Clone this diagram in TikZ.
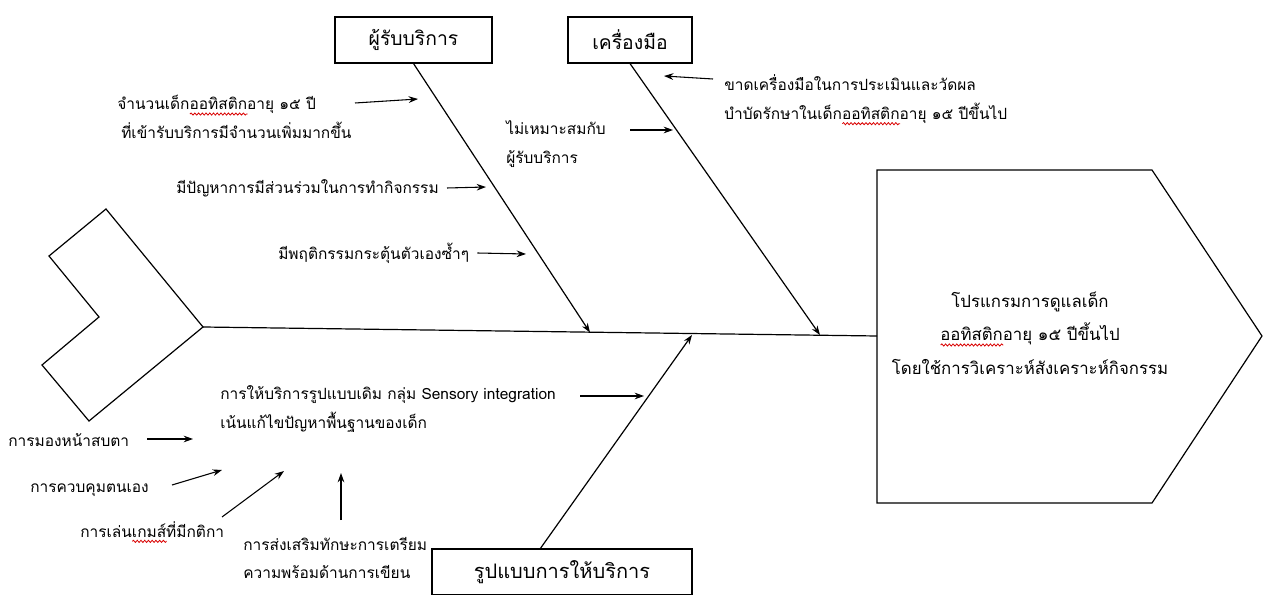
\documentclass[tikz,border=0pt]{standalone}
\usepackage{fontspec}
\setmainfont[Script=Thai]{Loma}
\usetikzlibrary{arrows.meta,decorations.pathmorphing}
\newlength\sqw
\newcommand\redsq[1]{\settowidth\sqw{#1}\leavevmode\rlap{\raisebox{-3.2pt}{\tikz[x=1pt,y=1pt,baseline=0pt]\draw[red!85!black,line width=0.6pt,decorate,decoration={snake,amplitude=0.8pt,segment length=2.8pt}] (0,0)--(\sqw,0);}}#1}
\begin{document}
\begin{tikzpicture}[x=0.75pt,y=-0.75pt,
  txt/.style={font=\fontsize{11.6}{21.5}\selectfont, inner sep=0pt, align=left, anchor=west},
  lbl/.style={draw, thick, inner sep=0pt, minimum height=46*0.75pt},
  arr/.style={-{Stealth[length=7pt,width=5pt]}, line width=0.8pt},
  bone/.style={-{Stealth[length=7pt,width=5pt]}, line width=0.9pt}]
\useasboundingbox (0,0) rectangle (1268,595);
% tail
\draw[line width=0.9pt] (106,209) -- (49,256) -- (99,317) -- (42,365) -- (89,421) -- (203,327) -- cycle;
% head
\draw[line width=0.9pt] (877,170) -- (1152,170) -- (1262,336) -- (1152,503) -- (877,503) -- cycle;
\coordinate (tail) at (203,327);
\coordinate (head) at (877,336);
\draw[line width=0.9pt] (tail) -- (head);
\node[font=\fontsize{12.6}{25}\selectfont, align=center] (htxt) at (1030,333) {โปรแกรมการดูแลเด็ก\\ \redsq{ออทิสติก}อายุ ๑๕ ปีขึ้นไป\\ โดยใช้การวิเคราะห์สังเคราะห์กิจกรรม};
% boxes
\node[lbl, font=\fontsize{14.5}{16}\selectfont, minimum width=157*0.75pt] (b1) at (413.5,40) {ผู้รับบริการ};
\node[lbl, font=\fontsize{14.5}{16}\selectfont, minimum width=124*0.75pt] (b2) at (630,40) {เครื่องมือ};
\node[lbl, font=\fontsize{15}{17}\selectfont, minimum width=260*0.75pt] (b3) at (562,572) {รูปแบบการให้บริการ};
% bones
\coordinate (e1) at (590,332.5);
\coordinate (e2) at (820,335);
\coordinate (e3) at (692,335);
\coordinate (s3) at (540,549);
\draw[bone] (b1.south) -- (e1);
\draw[bone] (b2.south) -- (e2);
\draw[bone] (s3) -- (e3);
% causes top-left
\node[txt] (t1) at (113,117) {\hspace{3pt}จำนวนเด็ก\redsq{ออทิสติก}อายุ ๑๕ ปี\\ \hspace{6pt}ที่เข้ารับบริการมีจำนวนเพิ่มมากขึ้น};
\coordinate (a1s) at (355,103); \coordinate (a1e) at (418,99);
\draw[arr] (a1s) -- (a1e);
\node[txt] (t2) at (176,188) {มีปัญหาการมีส่วนร่วมในการทำกิจกรรม};
\coordinate (a2e) at (486,187);
\draw[arr] ([xshift=6pt]t2.east) -- (a2e);
\node[txt] (t3) at (278,253) {มีพฤติกรรมกระตุ้นตัวเองซ้ำๆ};
\coordinate (a3e) at (526,254);
\draw[arr] ([xshift=6pt]t3.east) -- (a3e);
% tools
\node[txt] (t4) at (506,144) {ไม่เหมาะสมกับ\\ ผู้รับบริการ};
\coordinate (a4s) at (630,130); \coordinate (a4e) at (673,130);
\draw[arr] (a4s) -- (a4e);
\node[txt] (t5) at (724,100) {ขาดเครื่องมือในการประเมินและวัดผล\\ บำบัดรักษาในเด็ก\redsq{ออทิสติก}อายุ ๑๕ ปีขึ้นไป};
\coordinate (a5s) at (713,79); \coordinate (a5e) at (664,76);
\draw[arr] (a5s) -- (a5e);
% service
\node[txt] (t6) at (220,409) {การให้บริการรูปแบบเดิม กลุ่ม Sensory integration\\ เน้นแก้ไขปัญหาพื้นฐานของเด็ก};
\coordinate (a6s) at (580,396); \coordinate (a6e) at (644,396);
\draw[arr] (a6s) -- (a6e);
\node[txt] (t7) at (8,440) {การมองหน้าสบตา};
\coordinate (a7s) at (147,439); \coordinate (a7e) at (193,439);
\draw[arr] (a7s) -- (a7e);
\node[txt] (t8) at (30,490) {การควบคุมตนเอง};
\coordinate (a8s) at (172,485); \coordinate (a8e) at (222,470);
\draw[arr] (a8s) -- (a8e);
\node[txt] (t9) at (80,532) {การเล่น\redsq{เกมส์}ที่มีกติกา};
\coordinate (a9s) at (222,517); \coordinate (a9e) at (284,471);
\draw[arr] (a9s) -- (a9e);
\node[txt] (t10) at (243,558) {การส่งเสริมทักษะการเตรียม\\ ความพร้อมด้านการเขียน};
\coordinate (a10s) at (341,520); \coordinate (a10e) at (341,473);
\draw[arr] (a10s) -- (a10e);
\end{tikzpicture}
\end{document}
